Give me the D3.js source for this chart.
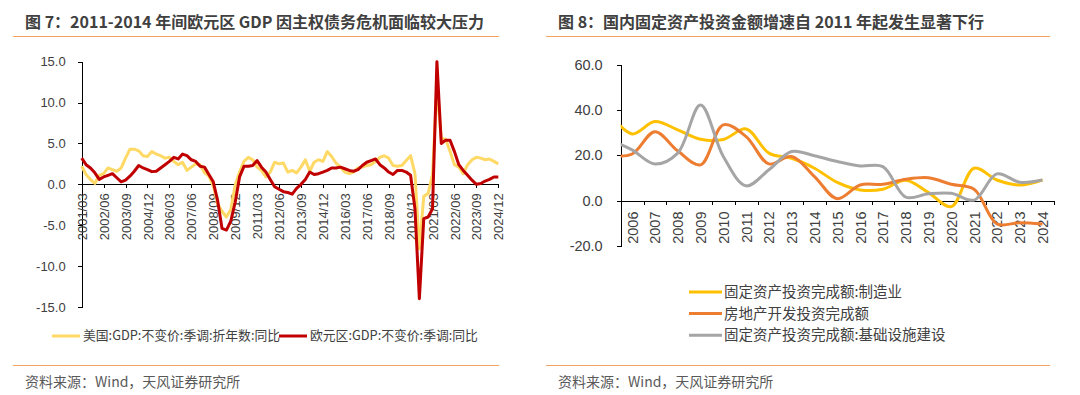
<!DOCTYPE html>
<html>
<head>
<meta charset="utf-8">
<script src="https://cdn.jsdelivr.net/npm/d3@7"></script>
<style>
  body { margin: 0; background: #fff; }
  svg { font-family: "Noto Sans CJK SC", "Noto Sans", sans-serif; }
  .axis text { fill: #404040; font-size: 13px; }
  .axis.big text { font-size: 14.5px; }
  .axis path, .axis line { stroke: #000; stroke-width: 1; shape-rendering: crispEdges; }
</style>
</head>
<body>
<svg id="chart" width="1080" height="395"></svg>
<script>
// left panel: quarterly GDP yoy, 2001Q1 .. 2024Q4
const quarters = d3.range(2001, 2025).flatMap((y) => ['03', '06', '09', '12'].map((m) => `${y}/${m}`));
const usGdp = [
  2.2, 1.2, 0.6, 0.1, 1.1, 1.3, 2.0, 1.8, 1.6, 2.0, 3.2, 4.3,
  4.3, 4.1, 3.5, 3.4, 4.0, 3.7, 3.5, 3.2, 3.3, 2.8, 2.4, 2.7,
  1.7, 2.1, 2.5, 2.4, 1.4, 1.0, -0.2, -2.4, -3.3, -4.0, -3.1, -0.1,
  1.5, 2.8, 3.3, 3.0, 2.1, 1.7, 0.9, 1.5, 2.7, 2.5, 2.6, 1.5,
  1.7, 1.4, 2.1, 3.0, 1.6, 2.7, 3.0, 2.8, 4.0, 3.4, 2.6, 2.1,
  1.5, 1.3, 1.5, 2.0, 2.1, 2.3, 2.4, 2.8, 3.3, 3.5, 3.2, 2.3,
  2.2, 2.3, 2.9, 3.5, 1.3, -7.9, -1.5, -1.1, 1.2, 11.8, 5.6, 5.5,
  4.0, 2.4, 2.1, 1.3, 2.4, 3.0, 3.3, 3.2, 3.0, 3.1, 2.8, 2.5,
];
const euGdp = [
  3.2, 2.4, 2.0, 1.4, 0.6, 0.9, 1.1, 1.3, 0.8, 0.3, 0.5, 1.0,
  1.6, 2.3, 2.0, 1.8, 1.55, 1.6, 2.0, 2.4, 2.8, 3.3, 3.1, 3.7,
  3.5, 3.0, 2.8, 2.2, 2.1, 1.2, 0.3, -2.0, -5.4, -5.6, -4.5, -2.2,
  0.9, 2.2, 2.2, 2.3, 2.9, 2.1, 1.5, 0.6, -0.3, -0.6, -0.9, -1.0,
  -1.2, -0.5, 0.0, 0.6, 1.5, 1.2, 1.3, 1.5, 1.7, 2.0, 2.0, 2.1,
  1.9, 1.7, 1.6, 1.8, 2.3, 2.7, 2.9, 3.1, 2.4, 2.0, 1.5, 1.2,
  1.7, 1.7, 1.5, 1.1, -3.0, -14.0, -4.2, -4.0, -3.0, 15.0, 5.0, 5.4,
  5.4, 4.0, 2.4, 1.7, 1.1, 0.5, 0.0, 0.1, 0.4, 0.6, 0.9, 0.9,
];
const leftTicks = [-15, -10, -5, 0, 5, 10, 15];
const leftLegend = ['美国:GDP:不变价:季调:折年数:同比', '欧元区:GDP:不变价:季调:同比'];

// right panel: yearly FAI growth; 2005 lies left of the axis and gets clipped
const years = d3.range(2005, 2025);
const manuInv = [38.5, 29.5, 35.0, 31.3, 27.1, 27.0, 31.7, 21.0, 18.7, 14.3, 8.0, 4.7, 5.0, 9.0, 3.5, -2.7, 14.3, 9.1, 6.9, 9.1];
const estateInv = [19.8, 20.6, 30.5, 22.0, 15.8, 33.5, 28.3, 16.2, 19.5, 10.6, 0.8, 6.9, 7.2, 9.4, 10.1, 7.2, 5.0, -10.3, -9.8, -10.4];
const infraInv = [27.0, 22.4, 16.2, 21.0, 42.3, 19.5, 6.5, 13.6, 21.7, 19.8, 17.3, 15.3, 15.0, 1.5, 3.0, 3.2, 0.2, 11.8, 8.1, 9.1];
const rightTicks = [-20, 0, 20, 40, 60];
const rightLegend = ['固定资产投资完成额:制造业', '房地产开发投资完成额', '固定资产投资完成额:基础设施建设'];

const svg = d3.select('#chart');
const fmt = (d) => d.toFixed(1);

// titles, rules, sources
const titles = [
  { x: 25, text: '图 7：2011-2014 年间欧元区 GDP 因主权债务危机面临较大压力', r0: 13, r1: 499 },
  { x: 558, text: '图 8：国内固定资产投资金额增速自 2011 年起发生显著下行', r0: 546, r1: 1050 },
];
titles.forEach((t) => {
  svg.append('text').attr('x', t.x).attr('y', 28)
    .attr('font-size', 16).attr('font-weight', 'bold').attr('fill', '#404040')
    .text(t.text);
  [36.5, 365.5].forEach((y) => {
    svg.append('line').attr('x1', t.r0).attr('x2', t.r1).attr('y1', y).attr('y2', y)
      .attr('stroke', '#F4A460').attr('stroke-width', 1.2);
  });
  svg.append('text').attr('x', t.x).attr('y', 387)
    .attr('font-size', 14).attr('fill', '#595959')
    .text('资料来源：Wind，天风证券研究所');
});

// ---------- left chart ----------
const xL = d3.scaleLinear().domain([0, quarters.length - 1]).range([81.7, 498.3]);
const yL = d3.scaleLinear().domain([-15, 15]).range([306.9, 61.7]);

svg.append('g').attr('class', 'axis')
  .attr('transform', `translate(${xL(0)},0)`)
  .call(d3.axisLeft(yL).tickValues(leftTicks).tickFormat(fmt).tickSize(4).tickPadding(12));

const gxL = svg.append('g').attr('class', 'axis')
  .attr('transform', `translate(0,${yL(0)})`)
  .call(d3.axisBottom(xL).tickValues(d3.range(0, quarters.length, 5))
    .tickFormat((i) => quarters[i]).tickSize(4).tickSizeOuter(0));
gxL.selectAll('text')
  .attr('transform', 'rotate(-90)').attr('text-anchor', 'end')
  .attr('x', -9).attr('y', 0).attr('dy', '0.35em');

const lineL = d3.line().x((d, i) => xL(i)).y((d) => yL(d));
[[usGdp, '#FFD966'], [euGdp, '#C00000']].forEach(([s, c]) => {
  svg.append('path').datum(s).attr('d', lineL)
    .attr('fill', 'none').attr('stroke', c).attr('stroke-width', 3)
    .attr('stroke-linejoin', 'round');
});

const legL = [{ x: 52, c: '#FFD966' }, { x: 279, c: '#C00000' }];
legL.forEach((l, i) => {
  svg.append('line').attr('x1', l.x).attr('x2', l.x + 28).attr('y1', 336).attr('y2', 336)
    .attr('stroke', l.c).attr('stroke-width', 3);
  svg.append('text').attr('x', l.x + 31).attr('y', 336).attr('dy', '0.35em')
    .attr('font-size', 12.8).attr('fill', '#404040').text(leftLegend[i]);
});

// ---------- right chart ----------
const xR = d3.scaleLinear().domain([2005.5, 2024.5]).range([620.7, 1053.9]);
const yR = d3.scaleLinear().domain([-20, 60]).range([245.7, 65]);

svg.append('defs').append('clipPath').attr('id', 'clipR')
  .append('rect').attr('x', xR(2005.5)).attr('y', 40)
  .attr('width', xR(2024.5) - xR(2005.5)).attr('height', 230);

svg.append('g').attr('class', 'axis big')
  .attr('transform', `translate(${xR(2005.5)},0)`)
  .call(d3.axisLeft(yR).tickValues(rightTicks).tickFormat(fmt).tickSize(4).tickPadding(14));

svg.append('g').attr('class', 'axis')
  .attr('transform', `translate(0,${yR(0)})`)
  .call(d3.axisBottom(xR).tickValues(d3.range(2005.5, 2025, 1)).tickFormat('').tickSize(4).tickSizeOuter(0));

const gxR = svg.append('g').attr('class', 'axis big')
  .attr('transform', `translate(0,${yR(0)})`)
  .call(d3.axisBottom(xR).tickValues(years.slice(1)).tickFormat(d3.format('d')).tickSize(0));
gxR.select('.domain').remove();
gxR.selectAll('text')
  .attr('transform', 'rotate(-90)').attr('text-anchor', 'end')
  .attr('x', -11).attr('y', 0).attr('dy', '0.35em');

const lineR = d3.line().x((d, i) => xR(years[i])).y((d) => yR(d)).curve(d3.curveCatmullRom);
const seriesR = [[manuInv, '#FFC000'], [estateInv, '#ED7D31'], [infraInv, '#A5A5A5']];
const plotR = svg.append('g').attr('clip-path', 'url(#clipR)');
seriesR.forEach(([s, c]) => {
  plotR.append('path').datum(s).attr('d', lineR)
    .attr('fill', 'none').attr('stroke', c).attr('stroke-width', 3);
});

seriesR.forEach(([, c], i) => {
  const y = 292 + i * 21.6;
  svg.append('line').attr('x1', 689).attr('x2', 722).attr('y1', y).attr('y2', y)
    .attr('stroke', c).attr('stroke-width', 3);
  svg.append('text').attr('x', 724).attr('y', y).attr('dy', '0.35em')
    .attr('font-size', 14.5).attr('fill', '#404040').text(rightLegend[i]);
});
</script>
</body>
</html>
